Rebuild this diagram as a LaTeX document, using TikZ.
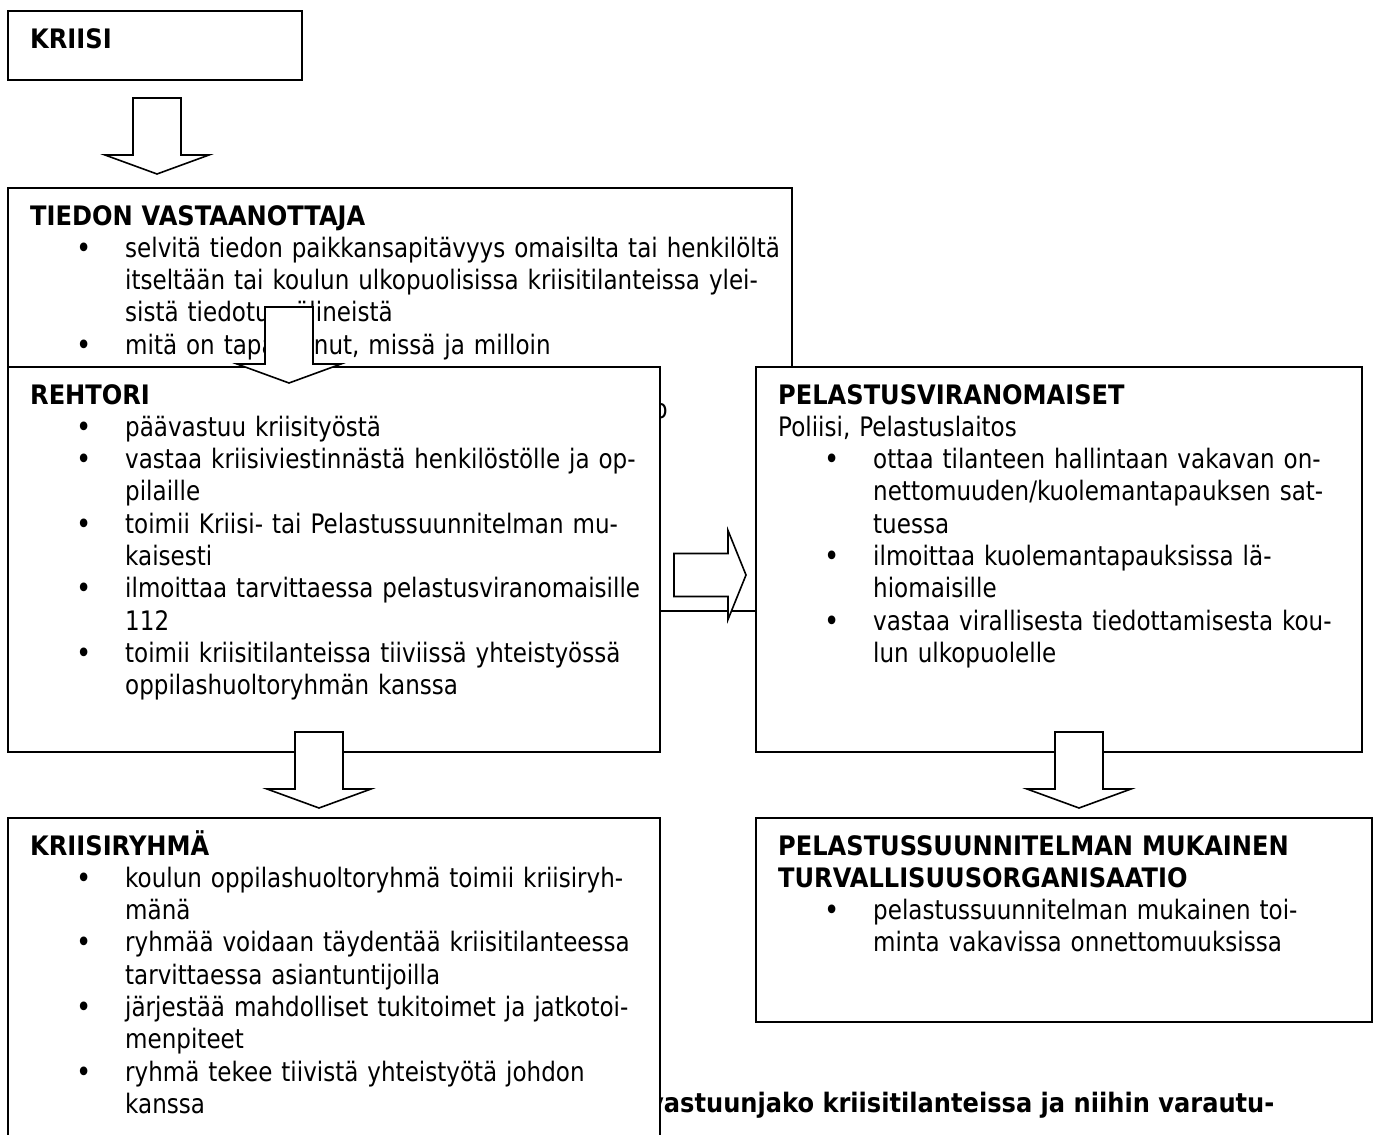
\documentclass[tikz,border=0pt]{standalone}
\usepackage{fontspec}
\setmainfont{DejaVu Sans}[FakeStretch=0.86,BoldFeatures={FakeStretch=0.9}]
\usetikzlibrary{calc}

% luettelon kohta: pallo ja riippuva sisennys
\newcommand{\pallo}{{\fontsize{30pt}{0pt}\selectfont\raisebox{-1pt}{\textbullet}}}
\newcommand{\kohta}{\par\noindent\hangindent=95pt\hangafter=1%
  \hbox to 95pt{\hskip 54pt\hbox to 0pt{\hss\pallo\hss}\hfil}\ignorespaces}
% paksut nuolet, karki annetaan
\newcommand{\nuolialas}[1]{\draw[nuoli] (#1) -- ++(52,-19) -- ++(-28,0) -- ++(0,-57)
  -- ++(-48,0) -- ++(0,57) -- ++(-28,0) -- cycle;}
\newcommand{\nuolioikealle}[1]{\draw[nuoli] (#1) -- ++(-18,-44.5) -- ++(0,23) -- ++(-54,0)
  -- ++(0,43) -- ++(54,0) -- ++(0,23) -- cycle;}

\begin{document}
\begin{tikzpicture}[x=1pt, y=-1pt,
    laatikko/.style={draw, fill=white, line width=1.6pt, inner sep=0pt, outer sep=0pt, anchor=north west},
    teksti/.style={inner sep=0pt, anchor=base west, text width=760pt, align=left,
        font=\fontsize{26.8pt}{32.3pt}\selectfont},
    nuoli/.style={draw, fill=white, line width=1.6pt, line join=miter}
]
\clip (0,0) rectangle (1379,1135);
\fill[white] (0,0) rectangle (1379,1135);

% kriisi
\node[laatikko, minimum width=294, minimum height=69] (kriisi) at (8,11) {};
\node[teksti] (kriisiteksti) at ($(kriisi.north west)+(22,37)$) {\textbf{KRIISI}};

% tiedon vastaanottaja
\node[laatikko, minimum width=784, minimum height=423] (tiedon) at (8,188) {};
\node[teksti] (tiedonteksti) at ($(tiedon.north west)+(22,37)$) {\textbf{TIEDON VASTAANOTTAJA}
  \kohta selvitä tiedon paikkansapitävyys omaisilta tai henkilöltä\newline
    itseltään tai koulun ulkopuolisissa kriisitilanteissa ylei-\newline
    sistä tiedotusvälineistä
  \kohta mitä on tapahtunut, missä ja milloin\par};
\node[inner sep=0pt, anchor=base east, font=\fontsize{26.8pt}{32.3pt}\selectfont] (piilo)
  at ($(tiedon.north west)+(660,230.8)$) {o};
\coordinate (n1) at ($(tiedon.north west)+(149,-14)$);
\nuolialas{n1}

% rehtori ja pelastusviranomaiset
\node[laatikko, minimum width=652, minimum height=385] (rehtori) at (8,367) {};
\node[teksti] (rehtoriteksti) at ($(rehtori.north west)+(22,37)$) {\textbf{REHTORI}
  \kohta päävastuu kriisityöstä
  \kohta vastaa kriisiviestinnästä henkilöstölle ja op-\newline pilaille
  \kohta toimii Kriisi- tai Pelastussuunnitelman mu-\newline kaisesti
  \kohta ilmoittaa tarvittaessa pelastusviranomaisille\newline 112
  \kohta toimii kriisitilanteissa tiiviissä yhteistyössä\newline oppilashuoltoryhmän kanssa\par};

\node[laatikko, minimum width=606, minimum height=385] (pelastus) at (756,367) {};
\node[teksti] (pelastusteksti) at ($(pelastus.north west)+(22,37)$) {\textbf{PELASTUSVIRANOMAISET}\par
  Poliisi, Pelastuslaitos
  \kohta ottaa tilanteen hallintaan vakavan on-\newline
    nettomuuden/kuolemantapauksen sat-\newline tuessa
  \kohta ilmoittaa kuolemantapauksissa lä-\newline hiomaisille
  \kohta vastaa virallisesta tiedottamisesta kou-\newline lun ulkopuolelle\par};

\coordinate (n2) at ($(rehtori.north west)+(281,16)$);
\nuolialas{n2}
\coordinate (n3) at ($(pelastus.north west)+(-10,208)$);
\nuolioikealle{n3}

% alarivi
\node[inner sep=0pt, anchor=base west, font=\fontsize{26.8pt}{32.3pt}\selectfont\bfseries] (kuvateksti)
  at (648,1112) {vastuunjako kriisitilanteissa ja niihin varautu-};

\node[laatikko, minimum width=652, minimum height=360] (ryhma) at (8,818) {};
\node[teksti] (ryhmateksti) at ($(ryhma.north west)+(22,37)$) {\textbf{KRIISIRYHMÄ}
  \kohta koulun oppilashuoltoryhmä toimii kriisiryh-\newline mänä
  \kohta ryhmää voidaan täydentää kriisitilanteessa\newline tarvittaessa asiantuntijoilla
  \kohta järjestää mahdolliset tukitoimet ja jatkotoi-\newline menpiteet
  \kohta ryhmä tekee tiivistä yhteistyötä johdon\newline kanssa\par};

\node[laatikko, minimum width=616, minimum height=204] (turva) at (756,818) {};
\node[teksti] (turvateksti) at ($(turva.north west)+(22,37)$) {\textbf{PELASTUSSUUNNITELMAN MUKAINEN}\par
  \textbf{TURVALLISUUSORGANISAATIO}
  \kohta pelastussuunnitelman mukainen toi-\newline minta vakavissa onnettomuuksissa\par};

\coordinate (n4) at ($(ryhma.north west)+(311,-10)$);
\nuolialas{n4}
\coordinate (n5) at ($(turva.north west)+(323,-10)$);
\nuolialas{n5}
\end{tikzpicture}
\end{document}
